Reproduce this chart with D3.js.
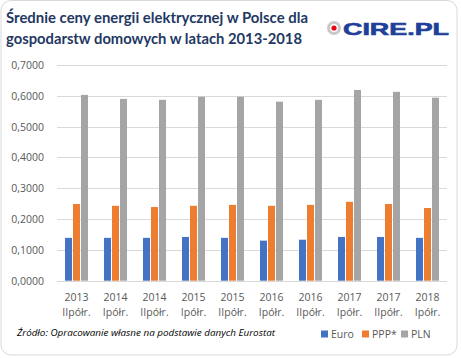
<!DOCTYPE html>
<html><head><meta charset="utf-8">
<script src="https://cdn.jsdelivr.net/npm/d3@7"></script>
<style>body{margin:0;background:#fff}svg{display:block}</style>
</head><body>
<svg id="c" width="461" height="358"></svg>
<script>
const years = ["2013","2014","2014","2015","2015","2016","2016","2017","2017","2018"];
const halves = ["IIpółr.","Ipółr.","IIpółr.","Ipółr.","IIpółr.","Ipółr.","IIpółr.","Ipółr.","IIpółr.","Ipółr."];
const euro = [0.139,0.139,0.139,0.142,0.139,0.130,0.133,0.142,0.142,0.139];
const ppp  = [0.249,0.243,0.239,0.243,0.246,0.243,0.246,0.256,0.249,0.236];
const pln  = [0.603,0.590,0.587,0.597,0.597,0.581,0.587,0.619,0.613,0.594];
const seriesNames = ["Euro","PPP*","PLN"];
const colors = ["#4472C4","#ED7D31","#A5A5A5"];
const yTicks = [0,0.1,0.2,0.3,0.4,0.5,0.6,0.7];

const svg = d3.select("#c");
svg.append("rect").attr("x",1).attr("y",0.5).attr("width",456).attr("height",354.5)
  .attr("rx",10).attr("fill","#fff").attr("stroke","#D9D9D9").attr("stroke-width",1);

const F = "'Open Sans', 'Liberation Sans', sans-serif";
const title = svg.append("g").attr("font-family","Lato, 'Open Sans', sans-serif").attr("font-weight","bold")
  .attr("font-size",15).attr("fill","#1F3864");
title.append("text").attr("x",6).attr("y",23).attr("textLength",302).attr("lengthAdjust","spacingAndGlyphs")
  .text("Średnie ceny energii elektrycznej w Polsce dla");
title.append("text").attr("x",6).attr("y",44).attr("textLength",296).attr("lengthAdjust","spacingAndGlyphs")
  .text("gospodarstw domowych w latach 2013-2018");

// logo
const lg = svg.append("g");
lg.append("circle").attr("cx",334).attr("cy",28).attr("r",5.5).attr("fill","none").attr("stroke","#C8C8C8").attr("stroke-width",3);
lg.append("circle").attr("cx",334).attr("cy",28).attr("r",2.6).attr("fill","#E30613");
lg.append("text").attr("x",343).attr("y",34.5).attr("font-family","'Liberation Sans', Arial, sans-serif")
  .attr("font-weight","bold").attr("font-size",17).attr("fill","#1F3F99")
  .attr("textLength",106).attr("lengthAdjust","spacingAndGlyphs").attr("stroke","#1F3F99").attr("stroke-width",0.6)
  .text("CIRE.PL");

const x0 = d3.scaleBand().domain(d3.range(years.length)).range([57,447]).padding(0);
const y = d3.scaleLinear().domain([0,0.7]).range([280.7,65]);
const x1 = d3.scaleBand().domain(d3.range(3)).range([0,23]).paddingInner(0.125);

// gridlines
svg.append("g").selectAll("line").data(yTicks).join("line")
  .attr("x1",57).attr("x2",447).attr("y1",d=>Math.round(y(d))+0.5).attr("y2",d=>Math.round(y(d))+0.5)
  .attr("stroke","#D9D9D9").attr("stroke-width",1);

// y axis labels
const fmt = d => d3.format(".4f")(d).replace(".",",");
svg.append("g").selectAll("text").data(yTicks).join("text")
  .attr("x",44).attr("y",d=>y(d)+4).attr("text-anchor","end")
  .attr("font-family",F).attr("font-size",10.5).attr("fill","#595959").text(fmt);

// bars
const data = [euro,ppp,pln];
const groups = svg.append("g").selectAll("g").data(years.map((_,i)=>i)).join("g")
  .attr("transform",i=>`translate(${x0(i)+(x0.bandwidth()-23)/2},0)`);
groups.selectAll("rect").data(i=>data.map((s,k)=>({k,v:s[i]}))).join("rect")
  .attr("x",d=>x1(d.k)).attr("width",x1.bandwidth())
  .attr("y",d=>y(d.v)).attr("height",d=>y(0)-y(d.v)).attr("fill",d=>colors[d.k]);

// x labels
const xl = svg.append("g").attr("font-family",F).attr("font-size",10.5).attr("fill","#595959").attr("text-anchor","middle");
xl.selectAll("text.yr").data(years).join("text").attr("class","yr")
  .attr("x",(d,i)=>x0(i)+x0.bandwidth()/2).attr("y",300.5).text(d=>d);
xl.selectAll("text.hf").data(halves).join("text").attr("class","hf")
  .attr("x",(d,i)=>x0(i)+x0.bandwidth()/2).attr("y",315.5).text(d=>d);

// footer
svg.append("text").attr("x",17).attr("y",336).attr("font-family",F).attr("font-style","italic")
  .attr("font-size",8.5).attr("fill","#000").attr("textLength",258).attr("lengthAdjust","spacingAndGlyphs")
  .text("Źródło: Opracowanie własne na podstawie danych Eurostat");

// legend
const legX = [321,362,401];
const leg = svg.append("g").selectAll("g").data(seriesNames).join("g")
  .attr("transform",(d,i)=>`translate(${legX[i]},0)`);
leg.append("rect").attr("x",0).attr("y",330.5).attr("width",7).attr("height",7).attr("fill",(d,i)=>colors[i]);
leg.append("text").attr("x",10).attr("y",337.5).attr("font-family",F).attr("font-size",10.5).attr("fill","#595959").text(d=>d);
</script>
</body></html>
